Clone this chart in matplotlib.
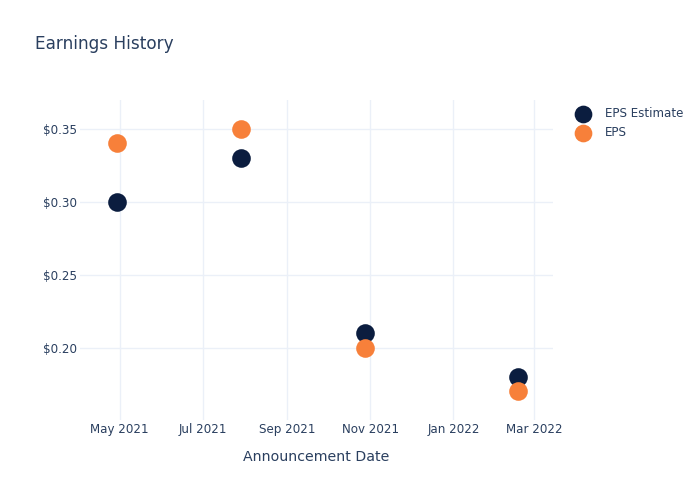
import matplotlib
matplotlib.use("Agg")
import matplotlib.pyplot as plt
import pandas as pd

dates = ["2021-04-29", "2021-07-29", "2021-10-28", "2022-02-17"]
eps_estimate = [0.30, 0.33, 0.21, 0.18]
eps_actual = [0.34, 0.35, 0.20, 0.17]
tick_dates = ["2021-05-01", "2021-07-01", "2021-09-01", "2021-11-01", "2022-01-01", "2022-03-01"]
tick_labels = ["May 2021", "Jul 2021", "Sep 2021", "Nov 2021", "Jan 2022", "Mar 2022"]
y_ticks = [0.20, 0.25, 0.30, 0.35]

text_color = "#2a3f5f"
grid_color = "#ebf0f8"
navy = "#0b1d3f"
orange = "#f7803a"

plt.rcParams['font.family'] = ['DejaVu Sans']
fig = plt.figure(figsize=(7, 5), dpi=100)
ax = fig.add_axes([80/700, 80/500, (553-80)/700, (420-100)/500])

x = pd.to_datetime(dates)
ax.scatter(x, eps_estimate, s=180, color=navy, label="EPS Estimate", zorder=3, linewidths=0)
ax.scatter(x, eps_actual, s=180, color=orange, label="EPS", zorder=3, linewidths=0)

ax.set_xlim(pd.Timestamp("2021-04-02"), pd.Timestamp("2022-03-15"))
ax.set_ylim(0.1503, 0.3697)
ax.set_xticks(pd.to_datetime(tick_dates))
ax.set_xticklabels(tick_labels)
ax.set_yticks(y_ticks)
ax.set_yticklabels([f"${v:.2f}" for v in y_ticks])
ax.tick_params(length=0, labelsize=8.6, colors=text_color)
ax.tick_params(axis='y', pad=2)
ax.tick_params(axis='x', pad=2)
ax.grid(True, color=grid_color, linewidth=1)
ax.set_axisbelow(True)
for s in ax.spines.values():
    s.set_visible(False)

ax.set_xlabel("Announcement Date", fontsize=10.2, color=text_color, labelpad=10)
fig.text(35/700, 1 - 44/500, "Earnings History", fontsize=12.2, color=text_color, va="center", ha="left")

leg = ax.legend(loc="upper left", bbox_to_anchor=(560/700, 1 - 96/500), bbox_transform=fig.transFigure,
                frameon=False, fontsize=8.6, labelcolor=text_color, handletextpad=0.85,
                labelspacing=0.55, markerscale=0.95)

fig.savefig("out.png", dpi=100)
